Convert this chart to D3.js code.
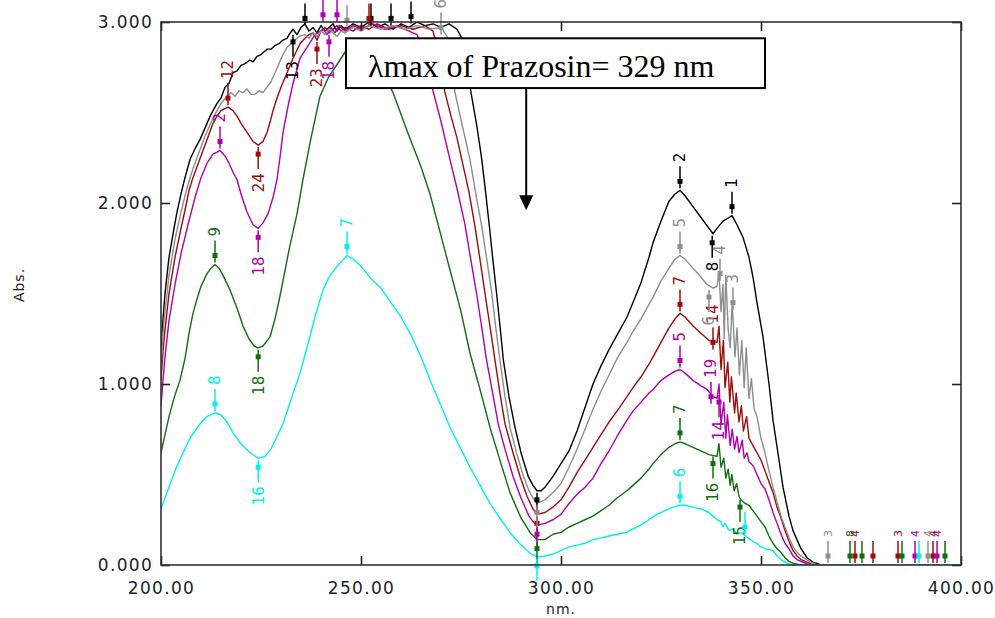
<!DOCTYPE html>
<html><head><meta charset="utf-8">
<script src="https://cdn.jsdelivr.net/npm/d3@7"></script>
<style>
html,body{margin:0;padding:0;background:#fff;}
svg{display:block;}
</style></head>
<body>
<svg id="chart" width="995" height="618"></svg>
<script>
// ---------- DATA (wavelength nm, absorbance) ----------
const xTicks = [200, 250, 300, 350, 400];
const yTicks = [0, 1, 2, 3];

const blackData = [[200,1.18],[200.5,1.36],[201,1.50],[202,1.70],[203.25,1.86],[204,1.95],[205,2.05],[206,2.14],[207.25,2.24],[208.5,2.30],[209.75,2.35],[211.5,2.44],[212.5,2.49],[214,2.55],[215,2.58],[216,2.64],[217,2.66],[218,2.72],[219,2.73],[220,2.76],[221,2.77],[222.25,2.79],[223,2.78],[224,2.81],[225,2.82],[226.5,2.85],[227.5,2.85],[228.5,2.87],[229.5,2.88],[230.5,2.90],[231.5,2.91],[232,2.93],[233,2.96],[234,2.93],[235,2.97],[236,2.99],[237,2.95],[238,2.97],[239,2.94],[240,2.98],[241,2.95],[242,2.97],[243,2.99],[244,2.95],[245,2.98],[246,2.96],[248,2.99],[250,2.97],[252,3.0],[254,2.97],[256,2.99],[258,2.96],[260,2.99],[262,2.97],[264,3.0],[266,2.98],[268,2.99],[270,2.97],[272,2.99],[274,2.96],[275.5,2.90],[276.5,2.76],[277.5,2.61],[279,2.42],[280.2,2.24],[281.2,2.05],[282.1,1.87],[283,1.68],[283.9,1.50],[284.8,1.31],[285.6,1.13],[287,0.93],[288.5,0.76],[290,0.62],[291.8,0.49],[293,0.44],[294,0.41],[295,0.41],[296,0.43],[298,0.49],[300,0.56],[302,0.63],[304,0.74],[306,0.87],[308,1.00],[310,1.10],[312,1.19],[314,1.27],[316.5,1.37],[318,1.45],[320,1.56],[322,1.70],[323,1.78],[325,1.90],[327,2.01],[328.5,2.05],[329.75,2.07],[331,2.04],[333,1.98],[335,1.92],[337,1.86],[338,1.83],[339,1.86],[340.5,1.90],[342,1.92],[342.75,1.93],[344,1.88],[345.5,1.81],[347,1.70],[348,1.59],[349,1.45],[350.5,1.26],[352,1.00],[353,0.80],[354.5,0.58],[355.5,0.43],[357,0.27],[358,0.19],[360,0.09],[361.5,0.04],[363,0.015],[365,0],[400,0]];

const grayData = [[200,1.10],[200.5,1.28],[201,1.40],[202,1.60],[203.5,1.80],[205,1.95],[206,2.04],[207,2.12],[208,2.19],[209,2.25],[210,2.31],[211,2.37],[212,2.42],[213,2.47],[214,2.51],[215,2.55],[216.5,2.59],[217.5,2.61],[218.5,2.59],[219.5,2.62],[220.5,2.61],[221.5,2.63],[222.5,2.60],[223.5,2.60],[224.5,2.62],[225.5,2.61],[226.5,2.64],[227.5,2.67],[228.5,2.72],[229.5,2.77],[230.5,2.82],[231.5,2.86],[232.5,2.88],[233.5,2.90],[234.5,2.92],[236,2.93],[237,2.91],[238,2.94],[239,2.92],[240,2.95],[241,2.93],[242,2.96],[243,2.94],[244,2.92],[245,2.95],[246,2.94],[248,2.97],[250,2.95],[252,2.98],[255,2.96],[258,2.98],[261,2.96],[264,2.98],[267,2.96],[270,2.97],[271.5,2.92],[272.5,2.78],[273.5,2.61],[275.4,2.42],[277.25,2.24],[278.7,2.05],[280.2,1.87],[281.5,1.68],[282.7,1.50],[283.7,1.31],[284.75,1.13],[286,0.93],[287.25,0.76],[289,0.61],[290.6,0.49],[292,0.41],[293,0.37],[294,0.34],[296,0.36],[298,0.40],[300,0.45],[302,0.54],[304,0.64],[306,0.75],[308,0.86],[310,0.96],[312,1.05],[314,1.14],[316.5,1.23],[318,1.29],[320,1.36],[322,1.44],[323,1.48],[325,1.57],[327,1.64],[328.5,1.69],[329.75,1.71],[331,1.69],[333,1.64],[335,1.59],[336.5,1.55],[338,1.53],[339,1.54],[339.5,1.62],[340,1.40],[340.5,1.55],[340.8,1.25],[341.2,1.60],[341.8,1.30],[342.3,1.20],[342.8,1.45],[343.5,1.15],[344,1.31],[344.6,1.05],[345.2,1.24],[345.8,0.98],[346.3,1.20],[347,0.92],[347.6,1.03],[348.3,0.86],[349,0.82],[350,0.70],[351,0.62],[352,0.52],[353,0.43],[354,0.35],[355,0.27],[356,0.21],[357,0.15],[358,0.10],[359,0.07],[360,0.05],[362,0.02],[364,0],[400,0]];

const redData = [[200,1.02],[200.5,1.18],[201,1.30],[202,1.50],[203.5,1.70],[205,1.86],[206,1.96],[207,2.07],[208,2.14],[209,2.20],[210.5,2.29],[212,2.38],[213,2.44],[214,2.48],[215,2.51],[216.75,2.53],[218,2.51],[219,2.48],[220,2.44],[221.5,2.39],[223,2.34],[224.3,2.32],[225.5,2.34],[226.5,2.39],[227.3,2.45],[228,2.51],[229,2.58],[230,2.64],[231.5,2.72],[233,2.80],[234.75,2.88],[236,2.91],[237,2.93],[238,2.94],[239,2.90],[240,2.95],[241,2.97],[242,2.94],[243,2.96],[244,2.98],[245,2.95],[246,2.97],[248,2.95],[250,2.98],[252,2.96],[254,2.99],[257,2.96],[260,2.98],[263,2.96],[266,2.98],[268,2.95],[269,2.86],[270,2.72],[271,2.61],[272.5,2.48],[274,2.36],[275.2,2.24],[277,2.06],[278.5,1.87],[279.8,1.68],[281,1.50],[282.3,1.31],[283.5,1.13],[284.8,0.94],[286,0.78],[288,0.62],[289.75,0.49],[291.5,0.38],[293,0.31],[294,0.28],[296,0.29],[298,0.32],[300,0.36],[302,0.43],[304,0.51],[306,0.58],[308,0.65],[310,0.72],[312,0.79],[314,0.85],[316.5,0.93],[318,0.98],[320,1.04],[322,1.11],[323,1.15],[325,1.23],[327,1.31],[328.5,1.36],[329.75,1.39],[331,1.37],[333,1.32],[335,1.28],[337,1.24],[339,1.23],[339.5,1.32],[340,1.08],[340.6,1.24],[341,0.98],[341.7,1.12],[342.2,0.90],[342.6,1.04],[343.4,0.84],[343.8,0.95],[344.5,0.79],[345.1,0.88],[345.6,0.74],[346.4,0.82],[347,0.70],[348,0.66],[349,0.62],[350,0.58],[351,0.52],[352,0.46],[353,0.40],[354,0.32],[355,0.26],[356,0.19],[357,0.13],[358,0.08],[359,0.05],[360,0.03],[362,0.01],[363,0],[400,0]];

const purpleData = [[200,0.88],[200.5,1.02],[201,1.15],[202,1.35],[203.5,1.55],[205,1.72],[206.75,1.88],[208.5,2.03],[210,2.14],[211.5,2.22],[213,2.27],[214.75,2.29],[216,2.26],[217,2.22],[218,2.17],[219,2.13],[220,2.05],[221.5,1.95],[223,1.88],[224.3,1.86],[225.5,1.89],[226.75,1.94],[228,2.03],[229,2.13],[229.8,2.26],[230.5,2.39],[231.8,2.54],[233,2.66],[234.75,2.80],[236.5,2.86],[238.5,2.93],[240.5,2.96],[241.5,2.93],[242.5,2.97],[243.5,2.94],[244.5,2.98],[246,2.95],[248,2.98],[250,2.96],[253,2.99],[256,2.96],[259,2.98],[262,2.95],[264,2.93],[265.5,2.85],[266.5,2.74],[268,2.62],[270,2.45],[272.25,2.24],[274,2.08],[276,1.88],[277.5,1.68],[278.9,1.50],[280.2,1.31],[281.4,1.13],[283,0.94],[284.3,0.78],[286,0.64],[288,0.49],[290,0.37],[292,0.27],[293,0.24],[294,0.22],[296,0.23],[298,0.25],[300,0.28],[302,0.34],[304,0.39],[306,0.43],[308,0.48],[310,0.56],[312,0.63],[314,0.71],[316.5,0.80],[318,0.85],[320,0.90],[322,0.95],[323,0.97],[325,1.02],[327,1.05],[328.5,1.07],[329.75,1.08],[331,1.06],[333,1.02],[335,0.99],[336.5,0.97],[338,0.93],[339,0.92],[339.5,1.00],[340,0.78],[340.7,0.90],[341.2,0.70],[341.6,0.83],[342.3,0.66],[342.8,0.75],[343.4,0.64],[344,0.71],[344.5,0.62],[345.3,0.69],[345.8,0.59],[346.5,0.62],[347,0.57],[348,0.55],[349,0.50],[350,0.45],[351,0.42],[352,0.36],[353,0.29],[354,0.23],[355,0.17],[356,0.12],[357,0.09],[358,0.05],[359,0.03],[361,0.01],[362,0],[400,0]];

const greenData = [[200,0.62],[201,0.72],[202,0.82],[203.5,0.94],[204.75,1.02],[206,1.14],[207,1.28],[208,1.39],[209,1.47],[210,1.54],[211.5,1.61],[212.5,1.64],[213.5,1.66],[214.5,1.64],[215.5,1.60],[217.25,1.52],[219,1.42],[220.5,1.32],[222,1.25],[223.3,1.21],[224.3,1.20],[225.5,1.21],[227.25,1.26],[228.5,1.36],[229.5,1.46],[230.5,1.57],[232,1.74],[233,1.84],[234,1.94],[235.5,2.13],[237.5,2.36],[239.75,2.59],[242,2.70],[244.75,2.79],[246.5,2.85],[248,2.88],[250,2.89],[252,2.86],[254,2.80],[256,2.70],[258,2.61],[260,2.49],[262,2.37],[265,2.20],[267.25,2.05],[270,1.82],[272.25,1.63],[275,1.40],[277.25,1.17],[280,0.95],[282.25,0.76],[285,0.56],[287.25,0.40],[290,0.26],[292.25,0.18],[294,0.14],[296,0.14],[298,0.17],[300,0.18],[302,0.21],[304,0.23],[306,0.25],[308,0.27],[310,0.30],[312,0.33],[314,0.37],[316.5,0.41],[318,0.44],[320,0.48],[322,0.53],[323,0.56],[325,0.61],[327,0.65],[328.5,0.67],[329.75,0.68],[331,0.67],[333,0.65],[335,0.63],[337,0.61],[339,0.60],[339.5,0.67],[340,0.54],[340.7,0.59],[341.2,0.48],[341.8,0.53],[342.3,0.44],[342.7,0.50],[343.3,0.41],[343.9,0.45],[344.5,0.38],[345,0.36],[346,0.34],[347,0.33],[348,0.30],[349,0.27],[350,0.24],[351,0.21],[352,0.16],[353,0.12],[354,0.09],[355,0.07],[356,0.04],[357,0.02],[358,0.01],[360,0],[400,0]];

const cyanData = [[200,0.31],[201,0.37],[202,0.43],[203.5,0.52],[205.5,0.62],[207.5,0.71],[209.75,0.78],[211.5,0.82],[213.5,0.84],[215,0.83],[216.5,0.79],[218,0.73],[220,0.67],[222.25,0.62],[224.3,0.59],[226,0.60],[227.5,0.64],[229,0.71],[230.5,0.78],[232,0.88],[233.5,0.98],[234.75,1.06],[236.5,1.20],[238.5,1.37],[240.5,1.52],[242,1.59],[244,1.65],[246.5,1.71],[248,1.69],[250,1.65],[251.5,1.61],[253,1.57],[255,1.53],[257.5,1.45],[260,1.37],[262.5,1.27],[265,1.15],[267.5,1.01],[270,0.88],[272.25,0.76],[275,0.64],[277.25,0.54],[280,0.43],[282.25,0.34],[285,0.25],[287.25,0.18],[290,0.11],[292.25,0.066],[294,0.045],[296,0.05],[298,0.06],[300,0.08],[302,0.10],[304,0.11],[306,0.12],[308,0.14],[310,0.15],[312,0.16],[314,0.17],[316.5,0.18],[318,0.20],[320,0.22],[322,0.25],[324,0.28],[326,0.30],[328,0.32],[329.75,0.33],[331,0.33],[333,0.32],[335,0.31],[337,0.29],[338,0.27],[339,0.25],[340,0.24],[340.5,0.21],[341,0.23],[342,0.19],[343,0.20],[344,0.17],[345,0.18],[346.5,0.155],[348,0.13],[349,0.12],[350,0.10],[351,0.09],[352,0.085],[353,0.08],[354,0.05],[355,0.03],[356.5,0.01],[358,0],[400,0]];

// peak / valley picks: [nm, absorbance, label, direction]
const blackMarks = [[329.75,2.07,"2","up"],[337.8,1.83,"8","down"],[342.75,1.93,"1","up"],[294,0.41,"","down"],[233,2.94,"13","down"],[236,2.97,"","up"],[252.5,2.97,"","up"],[257.5,2.97,"","up"],[262.5,2.98,"","up"]];
const grayMarks = [[329.75,1.71,"5","up"],[339.75,1.56,"4","up"],[337,1.53,"6","down"],[343,1.40,"3","up"],[294,0.34,"","down"],[246.5,2.96,"","up"],[270,2.92,"6","up"],[366.75,0,"3","up"],[391.75,0,"4","up"]];
const redMarks = [[216.75,2.53,"12","up"],[224.3,2.32,"24","down"],[239,2.90,"23","down"],[252,2.97,"","up"],[329.75,1.39,"7","up"],[338,1.18,"14","up"],[294,0.28,"","down"],[373.5,0,"4","up"],[378,0,"","up"],[384.25,0,"3","up"],[393,0,"4","up"]];
const purpleMarks = [[214.75,2.29,"2","up"],[224.3,1.86,"18","down"],[242,2.94,"18","down"],[240.5,2.99,"","up"],[244,2.99,"","up"],[329.75,1.08,"5","up"],[337.5,0.88,"19","up"],[339.5,0.95,"14","down"],[294,0.22,"","down"],[388.5,0,"4","up"],[394,0,"4","up"]];
const greenMarks = [[213.5,1.66,"9","up"],[224.3,1.20,"18","down"],[329.75,0.68,"7","up"],[338,0.61,"16","down"],[344.75,0.37,"15","down"],[294,0.14,"","down"],[372.25,0,"8","up"],[375.25,0,"","up"],[385.25,0,"","up"],[396,0,"","up"]];
const cyanMarks = [[213.5,0.84,"8","up"],[224.3,0.59,"16","down"],[246.5,1.71,"7","up"],[329.75,0.33,"6","up"],[294,0.045,"","down"],[346,0.16,"","up"],[389.5,0,"","up"]];

const annotationText = "\u03BBmax of Prazosin= 329 nm";
const boxNm = [246.25, 351];
const boxAbs = [2.91, 2.635];
const arrowNm = 291.3;
const arrowTipAbs = 1.96;

// ---------- CHART ----------
const svg = d3.select("#chart");
const x = d3.scaleLinear().domain([200, 400]).range([161, 961]);
const y = d3.scaleLinear().domain([0, 3]).range([565, 22]);

const series = [
  {data: blackData, marks: blackMarks, color: "#000000"},
  {data: redData, marks: redMarks, color: "#a00a0a"},
  {data: purpleData, marks: purpleMarks, color: "#b000b0"},
  {data: grayData, marks: grayMarks, color: "#8e8e8e"},
  {data: greenData, marks: greenMarks, color: "#0f6e0f"},
  {data: cyanData, marks: cyanMarks, color: "#00f0f0"}
];

svg.append("defs").append("clipPath").attr("id", "plotclip")
  .append("rect").attr("x", 161).attr("y", 22).attr("width", 800).attr("height", 543);

const line = d3.line().x(d => x(d[0])).y(d => y(d[1]));
const plot = svg.append("g").attr("clip-path", "url(#plotclip)");
series.forEach(s => {
  plot.append("path").datum(s.data).attr("d", line)
    .attr("fill", "none").attr("stroke", s.color).attr("stroke-width", 1.4)
    .attr("stroke-linejoin", "round");
});

// peak picks
const markG = svg.append("g");
series.forEach(s => {
  s.marks.forEach(m => {
    const px = x(m[0]), py = y(m[1]);
    const up = m[3] === "up";
    const sgn = up ? -1 : 1;
    markG.append("line").attr("x1", px).attr("x2", px)
      .attr("y1", py + sgn * 2).attr("y2", py + sgn * 24)
      .attr("stroke", s.color).attr("stroke-width", 1.5);
    markG.append("rect").attr("x", px - 2.5).attr("y", py + sgn * 9 - 2.5)
      .attr("width", 5).attr("height", 5).attr("fill", s.color);
    if (m[2]) {
      const fs = m[1] === 0 ? 11 : 15;
      markG.append("text")
        .attr("transform", `translate(${px + fs * 0.36},${py + sgn * 28}) rotate(-90)`)
        .attr("text-anchor", up ? "start" : "end")
        .attr("font-family", "DejaVu Sans, sans-serif").attr("font-size", fs)
        .attr("fill", s.color).text(m[2]);
    }
  });
});

// axes (ticks inward on all sides)
const fontAxis = "DejaVu Sans, sans-serif";
const gx = svg.append("g").attr("transform", "translate(0,565)")
  .call(d3.axisBottom(x).tickValues(xTicks).tickSize(-9).tickSizeOuter(0).tickPadding(17).tickFormat(d => d.toFixed(2)));
const gy = svg.append("g").attr("transform", "translate(161,0)")
  .call(d3.axisLeft(y).tickValues(yTicks).tickSize(-9).tickSizeOuter(0).tickPadding(8).tickFormat(d => d.toFixed(3)));
const gt = svg.append("g").attr("transform", "translate(0,22)")
  .call(d3.axisTop(x).tickValues(xTicks).tickSize(-9).tickSizeOuter(0).tickFormat(""));
const gr = svg.append("g").attr("transform", "translate(961,0)")
  .call(d3.axisRight(y).tickValues(yTicks).tickSize(-9).tickSizeOuter(0).tickFormat(""));
[gx, gy, gt, gr].forEach(g => {
  g.select(".domain").remove();
  g.selectAll(".tick line").attr("stroke", "#222").attr("stroke-width", 1.6);
  g.selectAll("text").attr("font-family", fontAxis).attr("font-size", 17)
    .attr("letter-spacing", "1.3px").attr("fill", "#1d1d2a");
});
svg.append("rect").attr("x", x(200)).attr("y", y(3)).attr("width", x(400) - x(200)).attr("height", y(0) - y(3))
  .attr("fill", "none").attr("stroke", "#333").attr("stroke-width", 1.6);

svg.append("text").attr("transform", "translate(24,285) rotate(-90)")
  .attr("text-anchor", "middle").attr("font-family", fontAxis).attr("font-size", 14)
  .attr("letter-spacing", "1px").attr("fill", "#1d1d2a").text("Abs.");
svg.append("text").attr("x", x(300)).attr("y", 614)
  .attr("text-anchor", "middle").attr("font-family", fontAxis).attr("font-size", 14)
  .attr("letter-spacing", "1px").attr("fill", "#1d1d2a").text("nm.");

// annotation box + arrow
svg.append("rect").attr("x", x(boxNm[0])).attr("y", y(boxAbs[0]))
  .attr("width", x(boxNm[1]) - x(boxNm[0])).attr("height", y(boxAbs[1]) - y(boxAbs[0]))
  .attr("fill", "#fff").attr("stroke", "#000").attr("stroke-width", 2);
svg.append("text").attr("x", x(boxNm[0]) + 22).attr("y", y(boxAbs[1]) - 11)
  .attr("font-family", "Liberation Serif, Times New Roman, serif").attr("font-size", 32)
  .attr("fill", "#000").text(annotationText);
const ax = x(arrowNm), ay0 = y(boxAbs[1]), ay1 = y(arrowTipAbs);
svg.append("line").attr("x1", ax).attr("x2", ax).attr("y1", ay0).attr("y2", ay1 - 12)
  .attr("stroke", "#000").attr("stroke-width", 2);
svg.append("path").attr("d", `M${ax - 7},${ay1 - 15} L${ax + 7},${ay1 - 15} L${ax},${ay1} Z`).attr("fill", "#000");
</script>
</body></html>
